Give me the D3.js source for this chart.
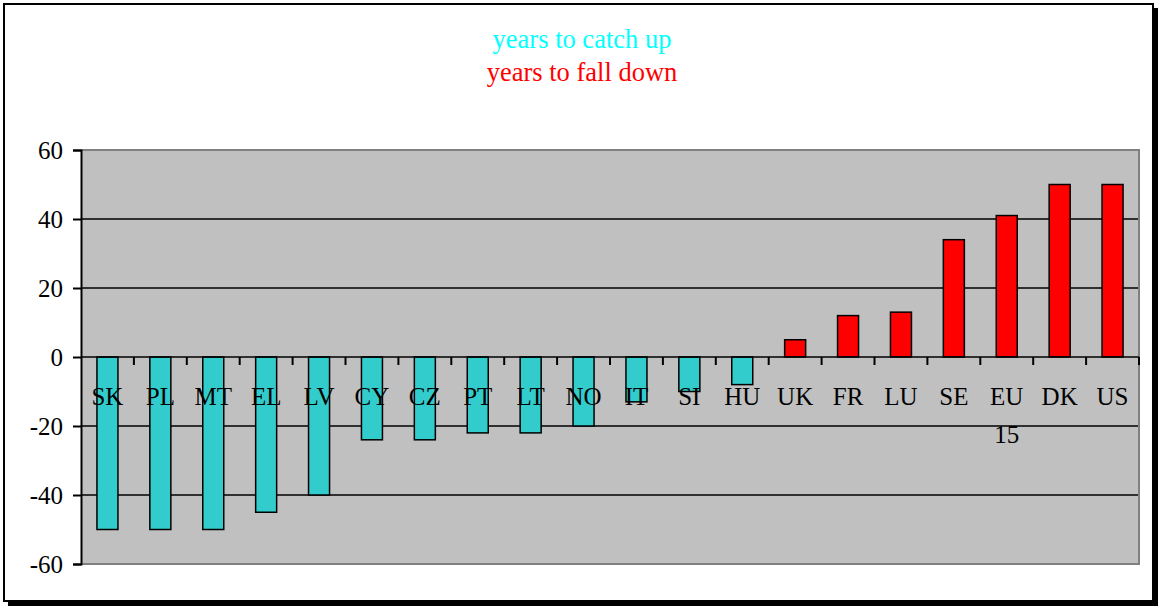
<!DOCTYPE html>
<html><head><meta charset="utf-8">
<script src="https://cdn.jsdelivr.net/npm/d3@7"></script>
<style>body{margin:0;background:#fff}svg{display:block}text{font-family:"Liberation Serif","Times New Roman",serif}</style>
</head><body><svg id="c" width="1160" height="609"></svg>
<script>
const categories=["SK","PL","MT","EL","LV","CY","CZ","PT","LT","NO","IT","SI","HU","UK","FR","LU","SE","EU 15","DK","US"];
const values=[-50,-50,-50,-45,-40,-24,-24,-22,-22,-20,-13,-10,-8,5,12,13,34,41,50,50];
const yTicks=[-60,-40,-20,0,20,40,60];
const legendLabels=["years to catch up","years to fall down"];
const colors={neg:"#33CCCC",pos:"#FF0000",legNeg:"#00FFFF",legPos:"#FF0000"};

const svg=d3.select("#c");
// outer frame with shadow
svg.append("rect").attr("x",8).attr("y",8).attr("width",1150).attr("height",598).attr("fill","#000");
svg.append("rect").attr("x",4).attr("y",4).attr("width",1149).attr("height",597).attr("fill","#fff").attr("stroke","#000").attr("stroke-width",2);

const L=81,R=1139,T=150,B=564;
const x=d3.scaleBand().domain(categories).range([L,R]).paddingInner(0).paddingOuter(0);
const y=d3.scaleLinear().domain([-60,60]).range([B,T]);

svg.append("rect").attr("x",L).attr("y",T).attr("width",R-L).attr("height",B-T).attr("fill","#C0C0C0");
// gridlines
svg.append("g").selectAll("line").data(yTicks.filter(d=>d!==0&&Math.abs(d)!==60)).join("line")
 .attr("x1",L).attr("x2",R).attr("y1",d=>y(d)).attr("y2",d=>y(d)).attr("stroke","#000").attr("stroke-width",1.5);
// plot border (top,right,bottom gray)
svg.append("path").attr("d",`M${L},${T}H${R}V${B}H${L}`).attr("fill","none").attr("stroke","#808080").attr("stroke-width",2);

// bars
const bw=21;
svg.append("g").selectAll("rect").data(categories).join("rect")
 .attr("x",(d)=>x(d)+x.bandwidth()/2-bw/2)
 .attr("width",bw)
 .attr("y",(d,i)=>y(Math.max(0,values[i])))
 .attr("height",(d,i)=>Math.abs(y(values[i])-y(0)))
 .attr("fill",(d,i)=>values[i]<0?colors.neg:colors.pos)
 .attr("stroke","#000").attr("stroke-width",1.5);

// y axis
const ya=svg.append("g").attr("transform",`translate(${L},0)`)
 .call(d3.axisLeft(y).tickValues(yTicks).tickSize(8).tickPadding(10).tickFormat(d=>String(d)));
ya.select(".domain").attr("stroke","#000").attr("stroke-width",2);
ya.selectAll(".tick line").attr("stroke","#000").attr("stroke-width",2);
ya.selectAll(".tick text").attr("font-size",25).attr("fill","#000").attr("font-family","Liberation Serif").attr("dy","0.32em");

// x axis at zero
svg.append("line").attr("x1",L).attr("x2",R).attr("y1",y(0)).attr("y2",y(0)).attr("stroke","#000").attr("stroke-width",1.5);
const bounds=categories.map(d=>x(d)).concat([R]).slice(1);
svg.append("g").selectAll("line").data(bounds).join("line")
 .attr("x1",d=>d).attr("x2",d=>d).attr("y1",y(0)).attr("y2",y(0)+8).attr("stroke","#000").attr("stroke-width",2);

// category labels
const lab=svg.append("g").selectAll("text").data(categories).join("text")
 .attr("x",d=>x(d)+x.bandwidth()/2).attr("y",405)
 .attr("text-anchor","middle").attr("font-size",25).attr("fill","#000");
lab.each(function(d){
  const parts=d.split(" ");
  const t=d3.select(this);
  parts.forEach((p,i)=>t.append("tspan").attr("x",x(d)+x.bandwidth()/2).attr("dy",i===0?0:"1.5em").text(p));
});

// legend title
svg.append("text").attr("x",582).attr("y",48).attr("text-anchor","middle").attr("font-size",26.5).attr("fill",colors.legNeg).text(legendLabels[0]);
svg.append("text").attr("x",582).attr("y",81).attr("text-anchor","middle").attr("font-size",26.5).attr("fill",colors.legPos).text(legendLabels[1]);
</script></body></html>
